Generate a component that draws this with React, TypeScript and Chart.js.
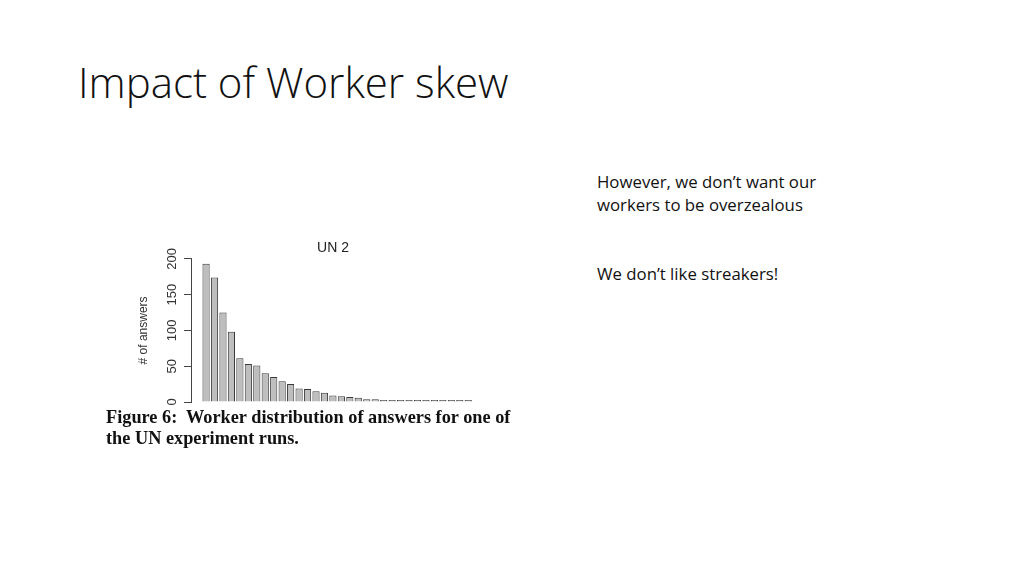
import { useEffect, useRef } from 'react'
import { Chart, registerables } from 'chart.js'

Chart.register(...registerables)

// workers, sorted by number of answers (UN 2 run)
const workers = Array.from({ length: 32 }, (_, i) => String(i + 1))
const answers = [
  193, 174, 125, 98, 61, 53, 51, 40, 35, 29, 25, 19, 18, 15, 13, 9,
  8, 7, 6, 4, 4, 2, 2, 2, 1, 1, 1, 1, 1, 1, 1, 1,
]
const yTicks = [0, 50, 100, 150, 200]

const rFont = '"Liberation Sans", Arial, sans-serif'

// R-style vertical tick labels, placed from the y scale
const rotatedTicks = {
  id: 'rotatedTicks',
  afterDraw(chart: Chart) {
    const y = chart.scales.y
    const ctx = chart.ctx
    ctx.save()
    ctx.fillStyle = '#333'
    ctx.font = `13px ${rFont}`
    ctx.textAlign = 'center'
    ctx.textBaseline = 'middle'
    for (const v of yTicks) {
      const py = y.getPixelForValue(v)
      ctx.save()
      ctx.translate(y.right - 19, py)
      ctx.rotate(-Math.PI / 2)
      ctx.fillText(String(v), 0, 0)
      ctx.restore()
    }
    ctx.restore()
  },
}

function WorkerChart() {
  const canvasRef = useRef<HTMLCanvasElement | null>(null)
  const chartRef = useRef<Chart | null>(null)

  useEffect(() => {
    chartRef.current?.destroy()
    const ctx = canvasRef.current?.getContext('2d')
    if (!ctx) return

    chartRef.current = new Chart(ctx, {
      type: 'bar',
      data: {
        labels: workers,
        datasets: [
          {
            data: answers,
            backgroundColor: '#bebebe',
            borderColor: '#3a3a3a',
            borderWidth: 1,
            barPercentage: 0.85,
            categoryPercentage: 1,
            minBarLength: 2,
          },
        ],
      },
      options: {
        animation: false,
        responsive: true,
        maintainAspectRatio: false,
        layout: { padding: { left: 0, right: 41, top: 0, bottom: 8 } },
        scales: {
          x: {
            type: 'linear',
            position: 'top',
            min: -0.78,
            max: 32.8,
            offset: false,
            border: { display: false },
            grid: { display: false, drawTicks: false },
            ticks: { display: false },
            title: {
              display: true,
              text: 'UN 2',
              color: '#222',
              font: { family: rFont, size: 14 },
              padding: { top: 0, bottom: 2 },
            },
          },
          y: {
            min: 0,
            max: 200,
            afterFit: (s: any) => {
              s.width = 57
            },
            afterBuildTicks: (s: any) => {
              s.ticks = yTicks.map((v) => ({ value: v }))
            },
            border: { display: true, color: '#444', width: 1 },
            grid: {
              drawOnChartArea: false,
              drawTicks: true,
              tickLength: 7,
              color: '#444',
            },
            ticks: { display: false },
            title: {
              display: true,
              text: '# of answers',
              color: '#333',
              font: { family: rFont, size: 12 },
              padding: { top: 2, bottom: 0 },
            },
          },
        },
        plugins: {
          legend: { display: false },
          tooltip: { enabled: false },
        },
      },
      plugins: [rotatedTicks],
    })

    return () => {
      chartRef.current?.destroy()
      chartRef.current = null
    }
  }, [])

  return <canvas ref={canvasRef} />
}

export default function App() {
  return (
    <div
      style={{
        position: 'fixed',
        inset: 0,
        width: 1024,
        height: 576,
        background: '#fff',
        overflow: 'hidden',
        fontFamily: '"Open Sans", sans-serif',
      }}
    >
      <div
        style={{
          position: 'absolute',
          left: 78,
          top: 54,
          fontSize: 42,
          fontWeight: 300,
          color: '#111',
          whiteSpace: 'nowrap',
          lineHeight: '56px',
        }}
      >
        Impact of Worker skew
      </div>

      <div
        style={{
          position: 'absolute',
          left: 597,
          top: 170,
          fontSize: 16.8,
          color: '#111',
          lineHeight: '23px',
          whiteSpace: 'nowrap',
        }}
      >
        <div>However, we don’t want our</div>
        <div>workers to be overzealous</div>
        <div style={{ marginTop: 46 }}>We don’t like streakers!</div>
      </div>

      <div style={{ position: 'absolute', left: 134, top: 240, width: 382, height: 170 }}>
        <WorkerChart />
      </div>

      <div
        style={{
          position: 'absolute',
          left: 106,
          top: 407,
          fontFamily: '"Liberation Serif", "Times New Roman", serif',
          fontWeight: 700,
          fontSize: 18.3,
          lineHeight: '21px',
          color: '#111',
          whiteSpace: 'nowrap',
        }}
      >
        <div>Figure 6:&nbsp; Worker distribution of answers for one of</div>
        <div>the UN experiment runs.</div>
      </div>
    </div>
  )
}
